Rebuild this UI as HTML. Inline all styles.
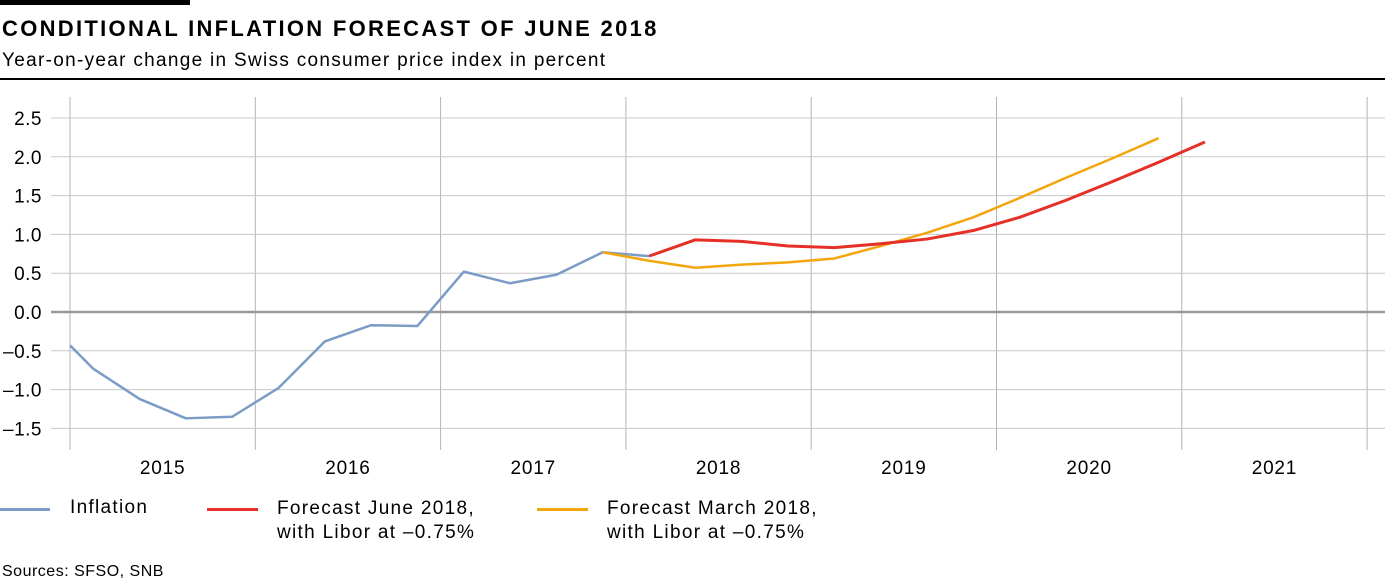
<!DOCTYPE html>
<html><head><meta charset="utf-8"><style>
body{margin:0;width:1385px;height:582px;background:#fff;font-family:"Liberation Sans",sans-serif;overflow:hidden;position:relative}
.a{position:absolute;white-space:nowrap}
</style></head><body>
<div class="a" style="left:0;top:0;width:190px;height:5px;background:#000"></div>
<div class="a" style="left:2px;top:16px;font-size:22px;font-weight:bold;letter-spacing:2.3px">CONDITIONAL INFLATION FORECAST OF JUNE 2018</div>
<div class="a" style="left:2px;top:50px;font-size:19px;letter-spacing:1.3px">Year-on-year change in Swiss consumer price index in percent</div>
<div class="a" style="left:0;top:78px;width:1385px;height:2px;background:#000"></div>
<svg class="a" style="left:0;top:0" width="1385" height="582">
<g id="grid"></g><g id="lines"></g>
</svg>
<div class="a" style="left:0;top:497px;font-size:19px;letter-spacing:1.3px"><span style="position:absolute;left:0;top:11px;width:50px;height:3px;background:#7a9cc6"></span><span style="position:absolute;left:70px">Inflation</span></div>
<div class="a" style="left:207px;top:497px;font-size:19px;line-height:24px;letter-spacing:1.3px"><span style="position:absolute;left:0;top:11px;width:51px;height:3px;background:#e63027"></span><span style="position:absolute;left:70px">Forecast June 2018,<br>with Libor at –0.75%</span></div>
<div class="a" style="left:537px;top:497px;font-size:19px;line-height:24px;letter-spacing:1.3px"><span style="position:absolute;left:0;top:11px;width:51px;height:3px;background:#f2a60c"></span><span style="position:absolute;left:70px">Forecast March 2018,<br>with Libor at –0.75%</span></div>
<div class="a" style="left:2px;top:563px;font-size:16px;letter-spacing:0.5px">Sources: SFSO, SNB</div>
<script>
const yTicks=[2.5,2.0,1.5,1.0,0.5,0.0,-0.5,-1.0,-1.5];
const years=[2015,2016,2017,2018,2019,2020,2021];
const inflT=[2015.0,2015.125,2015.375,2015.625,2015.875,2016.125,2016.375,2016.625,2016.875,2017.125,2017.375,2017.625,2017.875,2018.125];
const inflV=[-0.43,-0.73,-1.12,-1.37,-1.35,-0.98,-0.38,-0.17,-0.18,0.52,0.37,0.48,0.77,0.72];
const juneT=[2018.125,2018.375,2018.625,2018.875,2019.125,2019.375,2019.625,2019.875,2020.125,2020.375,2020.625,2020.875,2021.125];
const juneV=[0.72,0.93,0.91,0.85,0.83,0.88,0.94,1.05,1.22,1.44,1.68,1.93,2.19];
const marT=[2017.875,2018.125,2018.375,2018.625,2018.875,2019.125,2019.375,2019.625,2019.875,2020.125,2020.375,2020.625,2020.875];
const marV=[0.77,0.66,0.57,0.61,0.64,0.69,0.85,1.02,1.22,1.47,1.73,1.98,2.24];
const NS='http://www.w3.org/2000/svg';
const X=t=>70+(t-2015)*185.3, Y=v=>312-v*77.6;
const g=document.getElementById('grid'),L=document.getElementById('lines');
function mk(p,tag,at){const e=document.createElementNS(NS,tag);for(const k in at)e.setAttribute(k,at[k]);p.appendChild(e);return e;}
for(let y=2015;y<=2022;y++){const e=mk(g,'line',{x1:X(y),x2:X(y),y1:97,y2:450,stroke:'#b4b4b4','stroke-width':1});

}
yTicks.forEach(v=>{const e=mk(g,'line',{x1:51,x2:1385,y1:Y(v),y2:Y(v),stroke:v===0?'#999':'#c8c8c8','stroke-width':v===0?2.5:1});


const t=mk(g,'text',{x:42,y:Y(v)+7,'text-anchor':'end','font-size':19,fill:'#000','font-family':'Liberation Sans','letter-spacing':0.5});
t.textContent=(v<0?'–':'')+Math.abs(v).toFixed(1);

});
years.forEach(y=>{const t=mk(g,'text',{x:X(y+0.5),y:474,'text-anchor':'middle','font-size':19,'font-family':'Liberation Sans','letter-spacing':0.8});t.textContent=y;

});
function line(T,V,c,n){const e=mk(L,'polyline',{points:T.map((t,i)=>X(t)+','+Y(V[i])).join(' '),fill:'none',stroke:c,'stroke-width':n==='forecast-june-line'?3:2.5,'stroke-linejoin':'round'});

}
line(inflT,inflV,'#7a9cc6','inflation-line');
line(marT,marV,'#f2a60c','forecast-march-line');
line(juneT,juneV,'#e63027','forecast-june-line');
</script>
</body></html>
